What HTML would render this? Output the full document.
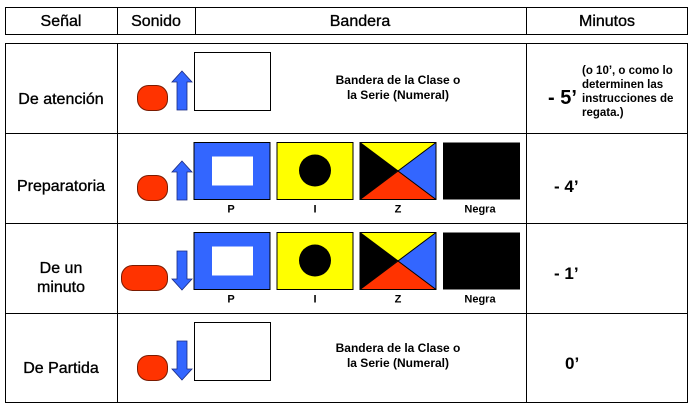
<!DOCTYPE html>
<html><head><meta charset="utf-8"><style>
html,body{margin:0;padding:0;background:#fff;}
svg{display:block;font-family:"Liberation Sans",Arial,sans-serif;}
</style></head><body>
<svg width="696" height="413" viewBox="0 0 696 413">
<defs>
<g id="up"><polygon points="182,71 192,82 187,82 187,110 177,110 177,82 172,82" fill="#3366ff" stroke="#1a2a80" stroke-width="0.8"/></g>
<g id="down"><polygon points="182,290 192,279 187,279 187,251 177,251 177,279 172,279" fill="#3366ff" stroke="#1a2a80" stroke-width="0.8"/></g>
<g id="flags">
<rect x="194" y="0" width="76" height="57" fill="#3366ff" stroke="#000"/>
<rect x="212" y="14" width="41" height="29" fill="#fff"/>
<rect x="277" y="0" width="76" height="57" fill="#ffff00" stroke="#000"/>
<circle cx="315" cy="28" r="16" fill="#000"/>
<polygon points="360,0 436,0 398,28" fill="#ffff00"/>
<polygon points="436,0 436,57 398,28" fill="#3366ff"/>
<polygon points="436,57 360,57 398,28" fill="#ff3300"/>
<polygon points="360,57 360,0 398,28" fill="#000"/>
<rect x="360" y="0" width="76" height="57" fill="none" stroke="#000"/>
<line x1="360" y1="0" x2="436" y2="57" stroke="#000"/>
<line x1="436" y1="0" x2="360" y2="57" stroke="#000"/>
<rect x="443" y="0" width="77" height="57" fill="#000"/>
<g font-size="11" font-weight="bold" text-anchor="middle">
<text x="231" y="70">P</text><text x="315" y="70">I</text><text x="398" y="70">Z</text><text x="480" y="70">Negra</text>
</g>
</g>
</defs>
<g fill="none" stroke="#000" stroke-width="1">
<rect x="5.5" y="7.5" width="682" height="27"/>
<line x1="117.5" y1="7" x2="117.5" y2="34"/>
<line x1="195.5" y1="7" x2="195.5" y2="34"/>
<line x1="526.5" y1="7" x2="526.5" y2="34"/>
<rect x="5.5" y="43.5" width="682" height="359"/>
<line x1="117.5" y1="43" x2="117.5" y2="403"/>
<line x1="526.5" y1="43" x2="526.5" y2="403"/>
<line x1="5" y1="133.5" x2="688" y2="133.5"/>
<line x1="5" y1="223.5" x2="688" y2="223.5"/>
<line x1="5" y1="313.5" x2="688" y2="313.5"/>
</g>
<g font-size="16" text-anchor="middle" fill="#000" stroke="#000" stroke-width="0.35">
<text x="61" y="26">Señal</text>
<text x="156" y="26">Sonido</text>
<text x="360" y="26">Bandera</text>
<text x="607" y="26">Minutos</text>
<text x="61" y="104">De atención</text>
<text x="61" y="191">Preparatoria</text>
<text x="61" y="273">De un</text>
<text x="61" y="292">minuto</text>
<text x="61" y="373">De Partida</text>
</g>
<!-- row 1 -->
<rect x="137.5" y="85.5" width="30" height="25" rx="11" fill="#ff3300" stroke="#7a1a00"/>
<use href="#up"/>
<rect x="194.5" y="52.5" width="76" height="58" fill="#fff" stroke="#000"/>
<g font-size="12" font-weight="bold" text-anchor="middle">
<text x="398" y="84">Bandera de la Clase o</text>
<text x="398" y="99">la Serie (Numeral)</text>
</g>
<!-- row 2 -->
<rect x="137.5" y="175.5" width="30" height="25" rx="11" fill="#ff3300" stroke="#7a1a00"/>
<use href="#up" transform="translate(0,90)"/>
<use href="#flags" transform="translate(0,142.5)"/>
<!-- row 3 -->
<rect x="121.5" y="265.5" width="46" height="25" rx="11" fill="#ff3300" stroke="#7a1a00"/>
<use href="#down"/>
<use href="#flags" transform="translate(0,232.5)"/>
<!-- row 4 -->
<rect x="137.5" y="355.5" width="30" height="25" rx="11" fill="#ff3300" stroke="#7a1a00"/>
<use href="#down" transform="translate(0,90)"/>
<rect x="194.5" y="322.5" width="76" height="58" fill="#fff" stroke="#000"/>
<g font-size="12" font-weight="bold" text-anchor="middle">
<text x="398" y="352">Bandera de la Clase o</text>
<text x="398" y="367">la Serie (Numeral)</text>
</g>
<!-- minutes -->
<g font-weight="bold" fill="#000">
<text x="548" y="104" font-size="20">- 5’</text>
<g font-size="11.5"><text x="582" y="74">(o 10’, o como lo</text>
<text x="582" y="88">determinen las</text>
<text x="582" y="102">instrucciones de</text>
<text x="582" y="116">regata.)</text></g>
<text x="554" y="192" font-size="17">- 4’</text>
<text x="554" y="279" font-size="17">- 1’</text>
<text x="565" y="369" font-size="17">0’</text>
</g>
</svg>
</body></html>
